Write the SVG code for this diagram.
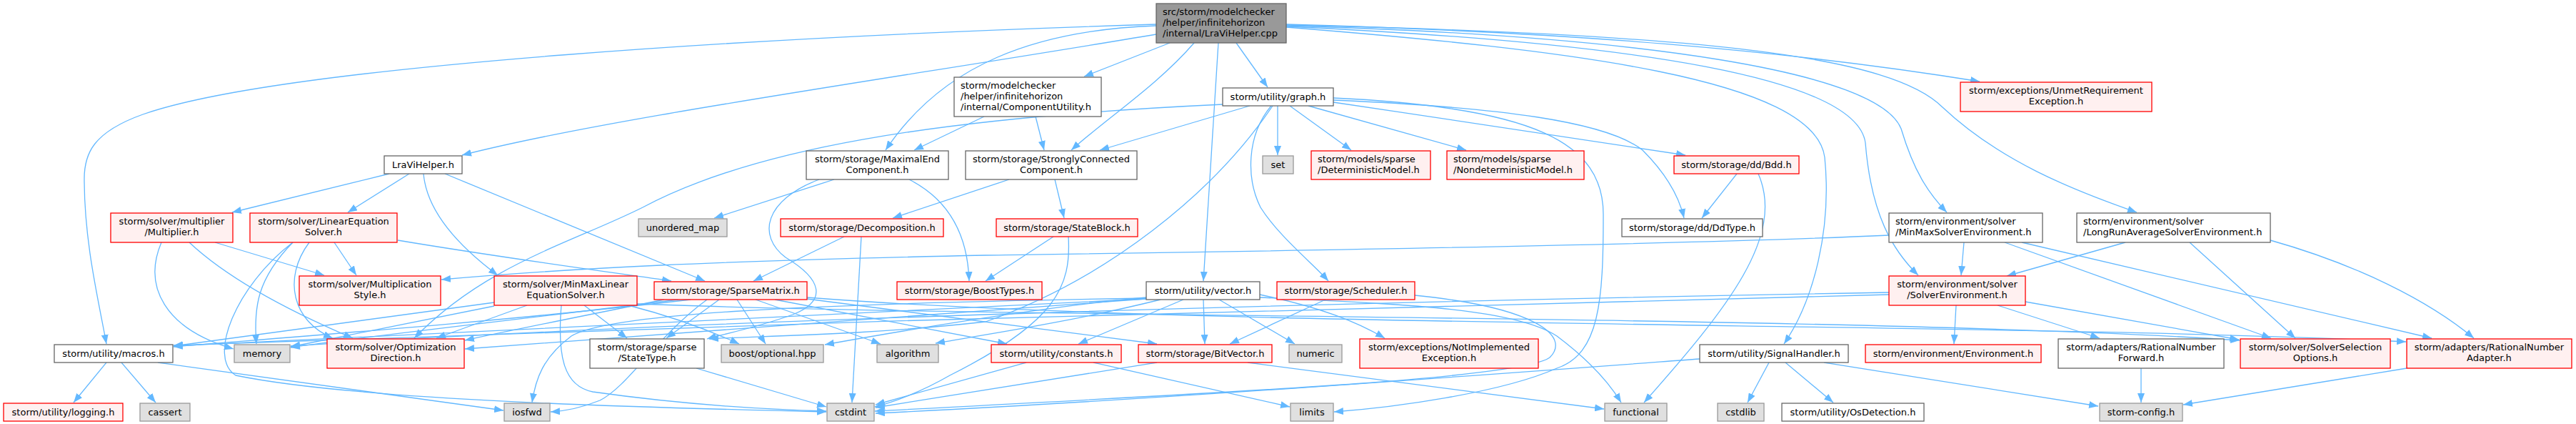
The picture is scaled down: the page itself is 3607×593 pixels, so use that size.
<svg xmlns="http://www.w3.org/2000/svg" width="3607" height="593" viewBox="0 0 3607 593">
<style>
text{font-family:"DejaVu Sans","Liberation Sans",sans-serif;font-size:13px;fill:#000}
.c{text-anchor:middle}
rect{stroke-width:1.3}
.w rect{fill:#fff;stroke:#666}
.r rect{fill:#fff0f0;stroke:#f00}
.s rect{fill:#e0e0e0;stroke:#999}
.m rect{fill:#999;stroke:#666}
#edges path{fill:none;stroke:#63b8ff;stroke-width:1.3;marker-end:url(#a)}
</style>
<defs>
<marker id="a" markerUnits="userSpaceOnUse" markerWidth="13" markerHeight="10" viewBox="0 0 13 10" refX="13" refY="5" orient="auto"><path d="M0,0L13,5L0,10z" fill="#63b8ff"/></marker>
</defs>
<rect x="0" y="0" width="3607" height="593" fill="#fff"/>
<g id="edges">
<path d="M1619,48 C1250,110 850,165 647,217"/>
<path d="M1619,34 C1100,50 400,90 200,160 C130,185 118,215 118,250 C118,340 138,420 149,481"/>
<path d="M1638,60 L1518,107"/>
<path d="M1619,36 C1450,42 1320,90 1240,210"/>
<path d="M1672,60 C1620,120 1550,165 1500,210"/>
<path d="M1706,60 L1685,393"/>
<path d="M1731,60 L1775,122"/>
<path d="M1801,34 C2200,45 2500,70 2772,114"/>
<path d="M1801,36 C2300,50 2630,100 2662,180 C2680,240 2700,270 2726,297"/>
<path d="M1801,35 C2400,48 2650,80 2720,150 C2800,225 2900,265 2992,297"/>
<path d="M1801,38 C2200,70 2540,110 2555,220 C2565,320 2540,420 2498,481"/>
<path d="M1801,37 C2300,60 2600,110 2612,200 C2620,300 2650,350 2686,385"/>
<path d="M1378,163 L1280,210"/>
<path d="M1450,163 L1462,210"/>
<path d="M1789,148 L1789,217"/>
<path d="M1806,148 L1892,210"/>
<path d="M1832,148 L2053,210"/>
<path d="M1867,143 C2050,170 2250,200 2360,217"/>
<path d="M1867,140 C2100,150 2250,170 2300,210 C2330,240 2350,270 2358,305"/>
<path d="M1867,137 C2150,150 2245,200 2245,300 C2245,420 2240,495 2180,515 C2100,550 1950,570 1868,576"/>
<path d="M1780,148 C1745,190 1745,250 1765,290 C1790,330 1840,370 1860,393"/>
<path d="M1750,148 L1540,210"/>
<path d="M1712,146 C1300,165 1050,210 900,290 C800,340 680,370 580,473"/>
<path d="M1782,148 C1700,270 1550,390 1380,450 C1200,470 1050,470 993,474"/>
<path d="M1685,419 L1687,481"/>
<path d="M1657,419 L1510,481"/>
<path d="M1707,419 L1813,481"/>
<path d="M1605,416 C1450,430 1250,465 1155,482"/>
<path d="M1625,419 C1500,450 1380,468 1310,480"/>
<path d="M1605,418 C1200,440 600,465 243,484"/>
<path d="M1605,418 C1300,440 900,470 651,488"/>
<path d="M1764,412 C1850,430 1900,450 1939,473"/>
<path d="M1764,416 C1950,425 2120,430 2180,470 C2220,500 2250,530 2270,563"/>
<path d="M1605,417 C1100,425 850,440 800,470 C760,500 750,530 745,563"/>
<path d="M1856,419 L1722,481"/>
<path d="M1981,413 C2150,430 2200,470 2170,500 C2130,530 1700,550 1225,575"/>
<path d="M1620,507 L1226,570"/>
<path d="M1747,507 L2246,572"/>
<path d="M1437,507 L1226,566"/>
<path d="M1531,507 L1806,569"/>
<path d="M975,515 L1157,569"/>
<path d="M2380,502 C2000,530 1600,560 1226,578"/>
<path d="M2477,507 L2447,563"/>
<path d="M2500,507 L2567,563"/>
<path d="M2554,507 L2938,568"/>
<path d="M2432,243 L2383,305"/>
<path d="M2462,243 C2500,330 2420,430 2302,563"/>
<path d="M1168,251 L1000,305"/>
<path d="M1273,251 C1330,280 1355,330 1357,393"/>
<path d="M1147,251 C1070,280 1060,330 1100,360 C1150,390 1160,420 1110,440 C1060,458 1010,468 990,474"/>
<path d="M1477,251 L1490,305"/>
<path d="M1413,251 L1250,305"/>
<path d="M1182,331 L1055,393"/>
<path d="M1206,331 L1193,563"/>
<path d="M1475,331 L1380,393"/>
<path d="M1496,331 C1500,400 1480,450 1330,525 C1290,548 1250,563 1225,569"/>
<path d="M545,243 L325,297"/>
<path d="M573,243 L487,297"/>
<path d="M593,243 C598,300 650,350 697,385"/>
<path d="M623,243 L987,393"/>
<path d="M301,339 L454,385"/>
<path d="M265,339 C330,400 440,450 494,473"/>
<path d="M226,339 C200,400 230,460 327,488"/>
<path d="M468,339 L499,385"/>
<path d="M433,339 C395,390 410,450 466,473"/>
<path d="M410,339 C360,390 355,430 359,481"/>
<path d="M410,339 C330,400 290,500 330,525 C500,560 900,570 1157,576"/>
<path d="M557,336 C700,360 850,380 940,393"/>
<path d="M692,423 L243,484"/>
<path d="M692,428 L407,485"/>
<path d="M738,427 L611,473"/>
<path d="M818,427 L878,473"/>
<path d="M786,427 C780,500 790,540 830,548 C950,565 1050,572 1157,575"/>
<path d="M892,425 C1400,445 2600,440 3136,476"/>
<path d="M880,427 C950,445 1000,465 1035,481"/>
<path d="M967,419 C700,450 400,472 243,485"/>
<path d="M950,419 C700,450 500,472 407,486"/>
<path d="M1007,419 L933,473"/>
<path d="M1032,419 L1072,481"/>
<path d="M1058,419 L1233,481"/>
<path d="M1085,419 L1410,481"/>
<path d="M1130,418 L1620,481"/>
<path d="M930,419 C800,445 700,465 651,476"/>
<path d="M1130,416 C1700,460 2800,450 3369,478"/>
<path d="M990,419 C920,470 880,540 840,560 C810,572 790,575 771,576"/>
<path d="M2750,339 L2746,385"/>
<path d="M2807,339 L3180,473"/>
<path d="M2831,339 L3405,473"/>
<path d="M2645,329 C2300,345 1500,355 1380,357 C1000,365 800,375 618,391"/>
<path d="M2976,339 L2810,386"/>
<path d="M3066,339 L3214,473"/>
<path d="M3179,336 C3300,370 3400,420 3464,473"/>
<path d="M2739,427 L2736,481"/>
<path d="M2797,427 L2940,473"/>
<path d="M2836,422 L3135,475"/>
<path d="M2645,409 C2000,420 1000,445 407,484"/>
<path d="M2645,412 C2000,425 1000,455 243,483"/>
<path d="M2998,515 L2998,563"/>
<path d="M3370,515 L3057,566"/>
<path d="M149,507 L103,563"/>
<path d="M170,507 L218,563"/>
<path d="M221,507 L705,574"/>
</g>
<g id="main" class="m"><rect x="1619" y="5" width="182" height="55"/><text x="1628" y="21">src/storm/modelchecker</text><text x="1628" y="36">/helper/infinitehorizon</text><text x="1628" y="50.5">/internal/LraViHelper.cpp</text></g>
<g id="compUtil" class="w"><rect x="1336" y="108" width="206" height="55"/><text x="1345" y="124">storm/modelchecker</text><text x="1345" y="139">/helper/infinitehorizon</text><text x="1345" y="153.5">/internal/ComponentUtility.h</text></g>
<g id="graph" class="w"><rect x="1712" y="123" width="155" height="25"/><text class="c" x="1789.5" y="140">storm/utility/graph.h</text></g>
<g id="unmet" class="r"><rect x="2745" y="115" width="268" height="41"/><text class="c" x="2879" y="131">storm/exceptions/UnmetRequirement</text><text class="c" x="2879" y="145.5">Exception.h</text></g>
<g id="lravi" class="w"><rect x="538" y="218" width="109" height="25"/><text class="c" x="592.5" y="235">LraViHelper.h</text></g>
<g id="mec" class="w"><rect x="1129" y="211" width="199" height="40"/><text class="c" x="1228.5" y="227">storm/storage/MaximalEnd</text><text class="c" x="1228.5" y="241.5">Component.h</text></g>
<g id="scc" class="w"><rect x="1352" y="211" width="240" height="40"/><text class="c" x="1472" y="227">storm/storage/StronglyConnected</text><text class="c" x="1472" y="241.5">Component.h</text></g>
<g id="set" class="s"><rect x="1768" y="218" width="43" height="25"/><text class="c" x="1789.5" y="235">set</text></g>
<g id="detm" class="r"><rect x="1836" y="211" width="167" height="40"/><text x="1845" y="227">storm/models/sparse</text><text x="1845" y="241.5">/DeterministicModel.h</text></g>
<g id="nondet" class="r"><rect x="2026" y="211" width="192" height="40"/><text x="2035" y="227">storm/models/sparse</text><text x="2035" y="241.5">/NondeterministicModel.h</text></g>
<g id="bdd" class="r"><rect x="2344" y="218" width="175" height="25"/><text class="c" x="2431.5" y="235">storm/storage/dd/Bdd.h</text></g>
<g id="mult" class="r"><rect x="155" y="298" width="171" height="41"/><text class="c" x="240.5" y="314">storm/solver/multiplier</text><text class="c" x="240.5" y="328.5">/Multiplier.h</text></g>
<g id="linsolver" class="r"><rect x="350" y="298" width="206" height="41"/><text class="c" x="453" y="314">storm/solver/LinearEquation</text><text class="c" x="453" y="328.5">Solver.h</text></g>
<g id="umap" class="s"><rect x="894" y="306" width="124" height="25"/><text class="c" x="956" y="323">unordered_map</text></g>
<g id="decomp" class="r"><rect x="1093" y="306" width="228" height="25"/><text class="c" x="1207" y="323">storm/storage/Decomposition.h</text></g>
<g id="stateblock" class="r"><rect x="1395" y="306" width="198" height="25"/><text class="c" x="1494" y="323">storm/storage/StateBlock.h</text></g>
<g id="ddtype" class="w"><rect x="2271" y="306" width="197" height="25"/><text class="c" x="2369.5" y="323">storm/storage/dd/DdType.h</text></g>
<g id="minmaxenv" class="w"><rect x="2645" y="298" width="215" height="41"/><text x="2654" y="314">storm/environment/solver</text><text x="2654" y="328.5">/MinMaxSolverEnvironment.h</text></g>
<g id="lraenv" class="w"><rect x="2908" y="298" width="271" height="41"/><text x="2917" y="314">storm/environment/solver</text><text x="2917" y="328.5">/LongRunAverageSolverEnvironment.h</text></g>
<g id="multstyle" class="r"><rect x="419" y="386" width="198" height="41"/><text class="c" x="518" y="402">storm/solver/Multiplication</text><text class="c" x="518" y="416.5">Style.h</text></g>
<g id="minmaxsolver" class="r"><rect x="692" y="386" width="200" height="41"/><text class="c" x="792" y="402">storm/solver/MinMaxLinear</text><text class="c" x="792" y="416.5">EquationSolver.h</text></g>
<g id="sparse" class="r"><rect x="916" y="394" width="214" height="25"/><text class="c" x="1023" y="411">storm/storage/SparseMatrix.h</text></g>
<g id="boosttypes" class="r"><rect x="1256" y="394" width="203" height="25"/><text class="c" x="1357.5" y="411">storm/storage/BoostTypes.h</text></g>
<g id="vector" class="w"><rect x="1605" y="394" width="159" height="25"/><text class="c" x="1684.5" y="411">storm/utility/vector.h</text></g>
<g id="scheduler" class="r"><rect x="1788" y="394" width="193" height="25"/><text class="c" x="1884.5" y="411">storm/storage/Scheduler.h</text></g>
<g id="solverenv" class="r"><rect x="2645" y="386" width="191" height="41"/><text class="c" x="2740.5" y="402">storm/environment/solver</text><text class="c" x="2740.5" y="416.5">/SolverEnvironment.h</text></g>
<g id="macros" class="w"><rect x="76" y="482" width="166" height="25"/><text class="c" x="159" y="499">storm/utility/macros.h</text></g>
<g id="memory" class="s"><rect x="328" y="482" width="78" height="25"/><text class="c" x="367" y="499">memory</text></g>
<g id="optdir" class="r"><rect x="458" y="474" width="192" height="41"/><text class="c" x="554" y="490">storm/solver/Optimization</text><text class="c" x="554" y="504.5">Direction.h</text></g>
<g id="statetype" class="w"><rect x="826" y="474" width="160" height="41"/><text class="c" x="906" y="490">storm/storage/sparse</text><text class="c" x="906" y="504.5">/StateType.h</text></g>
<g id="optional" class="s"><rect x="1010" y="482" width="143" height="25"/><text class="c" x="1081.5" y="499">boost/optional.hpp</text></g>
<g id="algorithm" class="s"><rect x="1228" y="482" width="86" height="25"/><text class="c" x="1271" y="499">algorithm</text></g>
<g id="constants" class="r"><rect x="1388" y="482" width="182" height="25"/><text class="c" x="1479" y="499">storm/utility/constants.h</text></g>
<g id="bitvector" class="r"><rect x="1594" y="482" width="187" height="25"/><text class="c" x="1687.5" y="499">storm/storage/BitVector.h</text></g>
<g id="numeric" class="s"><rect x="1805" y="482" width="74" height="25"/><text class="c" x="1842" y="499">numeric</text></g>
<g id="notimpl" class="r"><rect x="1904" y="474" width="250" height="41"/><text class="c" x="2029" y="490">storm/exceptions/NotImplemented</text><text class="c" x="2029" y="504.5">Exception.h</text></g>
<g id="signal" class="w"><rect x="2380" y="482" width="208" height="25"/><text class="c" x="2484" y="499">storm/utility/SignalHandler.h</text></g>
<g id="env" class="r"><rect x="2612" y="482" width="246" height="25"/><text class="c" x="2735" y="499">storm/environment/Environment.h</text></g>
<g id="ratfwd" class="w"><rect x="2882" y="474" width="232" height="41"/><text class="c" x="2998" y="490">storm/adapters/RationalNumber</text><text class="c" x="2998" y="504.5">Forward.h</text></g>
<g id="solversel" class="r"><rect x="3137" y="474" width="210" height="41"/><text class="c" x="3242" y="490">storm/solver/SolverSelection</text><text class="c" x="3242" y="504.5">Options.h</text></g>
<g id="ratadapter" class="r"><rect x="3370" y="474" width="231" height="41"/><text class="c" x="3485.5" y="490">storm/adapters/RationalNumber</text><text class="c" x="3485.5" y="504.5">Adapter.h</text></g>
<g id="logging" class="r"><rect x="5" y="564" width="167" height="25"/><text class="c" x="88.5" y="581">storm/utility/logging.h</text></g>
<g id="cassert" class="s"><rect x="196" y="564" width="70" height="25"/><text class="c" x="231" y="581">cassert</text></g>
<g id="iosfwd" class="s"><rect x="706" y="564" width="64" height="25"/><text class="c" x="738" y="581">iosfwd</text></g>
<g id="cstdint" class="s"><rect x="1158" y="564" width="66" height="25"/><text class="c" x="1191" y="581">cstdint</text></g>
<g id="limits" class="s"><rect x="1807" y="564" width="60" height="25"/><text class="c" x="1837" y="581">limits</text></g>
<g id="functional" class="s"><rect x="2247" y="564" width="87" height="25"/><text class="c" x="2290.5" y="581">functional</text></g>
<g id="cstdlib" class="s"><rect x="2405" y="564" width="65" height="25"/><text class="c" x="2437.5" y="581">cstdlib</text></g>
<g id="osdet" class="w"><rect x="2495" y="564" width="199" height="25"/><text class="c" x="2594.5" y="581">storm/utility/OsDetection.h</text></g>
<g id="config" class="s"><rect x="2940" y="564" width="116" height="25"/><text class="c" x="2998" y="581">storm-config.h</text></g>
</svg>
